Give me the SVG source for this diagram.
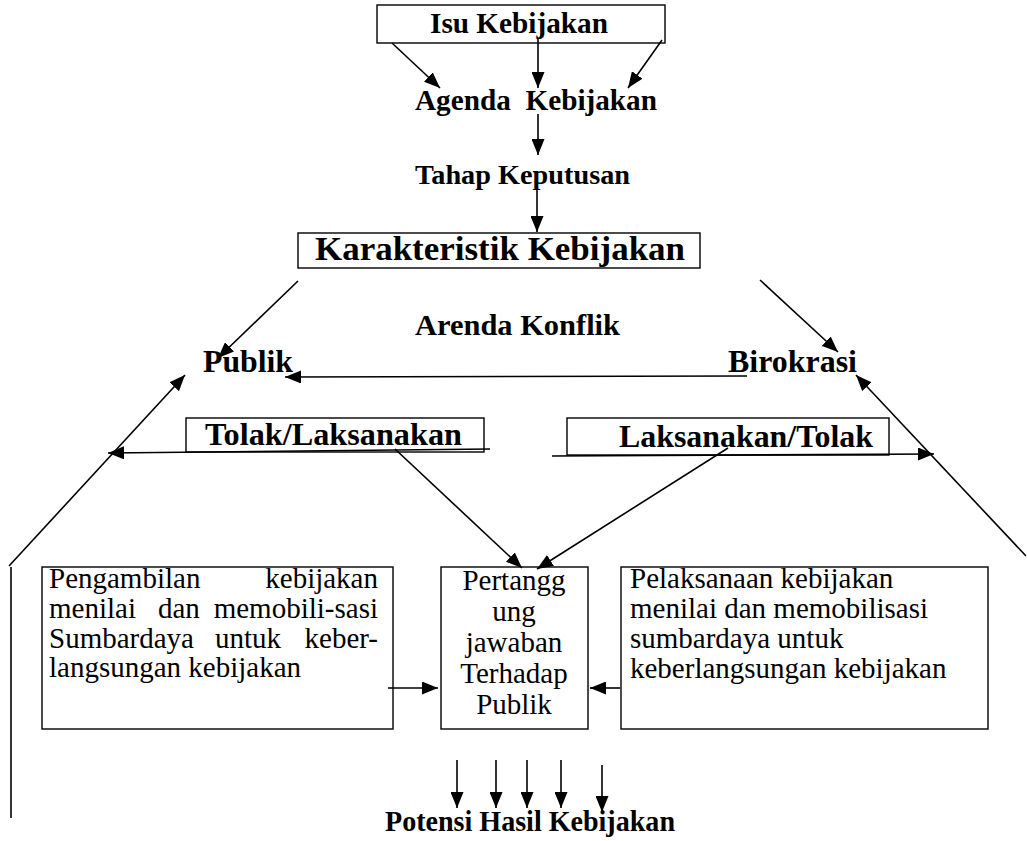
<svg xmlns="http://www.w3.org/2000/svg" width="1027" height="841" viewBox="0 0 1027 841">
  <style>
    .box { fill: none; stroke: #000; stroke-width: 1.4; }
    .b { font-family: "Liberation Serif", "Times New Roman", serif; font-weight: bold; fill: #000; }
    .r { font-family: "Liberation Serif", "Times New Roman", serif; font-size: 29px; fill: #000; }
    .c { text-anchor: middle; }
    .e { text-anchor: end; }
    .ln { stroke: #000; stroke-width: 1.6; fill: none; }
    .ar { stroke: #000; stroke-width: 1.6; fill: none; marker-end: url(#head); }
  </style>
  <defs>
    <marker id="head" markerUnits="userSpaceOnUse" markerWidth="17" markerHeight="13" refX="16" refY="6.5" orient="auto">
      <path d="M0,0 L16,6.5 L0,13 z" fill="#000"/>
    </marker>
  </defs>
  <rect width="1027" height="841" fill="#fff"/>

  <!-- flow connectors -->
  <g id="connectors">
    <line class="ar" x1="392" y1="43" x2="440" y2="88"/>
    <line class="ar" x1="538" y1="38" x2="538" y2="88"/>
    <line class="ar" x1="662" y1="40" x2="628" y2="88"/>
    <line class="ar" x1="538" y1="114" x2="538" y2="155"/>
    <line class="ar" x1="537" y1="187" x2="537" y2="232"/>
    <line class="ar" x1="298" y1="281" x2="218" y2="358"/>
    <line class="ar" x1="760" y1="280" x2="838" y2="352"/>
    <line class="ar" x1="747" y1="376" x2="285" y2="377"/>
    <line class="ar" x1="9" y1="566" x2="185" y2="375"/>
    <line class="ar" x1="490" y1="449" x2="108" y2="453"/>
    <line class="ar" x1="552" y1="456" x2="934" y2="454"/>
    <line class="ar" x1="1026" y1="556" x2="856" y2="375"/>
    <line class="ar" x1="395" y1="449" x2="522" y2="568"/>
    <line class="ar" x1="728" y1="448" x2="537" y2="569"/>
    <line class="ar" x1="388" y1="688" x2="438" y2="688"/>
    <line class="ar" x1="620" y1="688" x2="590" y2="688"/>
    <line class="ar" x1="457" y1="760" x2="457" y2="808"/>
    <line class="ar" x1="496" y1="760" x2="496" y2="808"/>
    <line class="ar" x1="527" y1="760" x2="527" y2="808"/>
    <line class="ar" x1="561" y1="760" x2="561" y2="808"/>
    <line class="ar" x1="602" y1="765" x2="602" y2="812"/>
    <line class="ln" x1="11" y1="567" x2="11" y2="818"/>
  </g>

  <g id="isu-kebijakan">
    <rect class="box" x="377" y="5" width="288" height="38"/>
    <text class="b" x="430" y="33" font-size="29" textLength="178" lengthAdjust="spacingAndGlyphs">Isu Kebijakan</text>
  </g>

  <g id="agenda-kebijakan">
    <text class="b" x="415" y="110" font-size="29" textLength="242" lengthAdjust="spacingAndGlyphs" xml:space="preserve">Agenda  Kebijakan</text>
  </g>

  <g id="tahap-keputusan">
    <text class="b" x="415" y="184" font-size="28" textLength="215" lengthAdjust="spacingAndGlyphs">Tahap Keputusan</text>
  </g>

  <g id="karakteristik-kebijakan">
    <rect class="box" x="298" y="233" width="402" height="35"/>
    <text class="b" x="315" y="260" font-size="34" textLength="370" lengthAdjust="spacingAndGlyphs">Karakteristik Kebijakan</text>
  </g>

  <g id="arenda-konflik">
    <text class="b" x="415" y="335" font-size="30" textLength="205" lengthAdjust="spacingAndGlyphs">Arenda Konflik</text>
  </g>

  <g id="publik">
    <text class="b" x="203" y="372" font-size="31" textLength="90" lengthAdjust="spacingAndGlyphs">Publik</text>
  </g>

  <g id="birokrasi">
    <text class="b" x="728" y="372" font-size="31" textLength="129" lengthAdjust="spacingAndGlyphs">Birokrasi</text>
  </g>

  <g id="tolak-laksanakan">
    <rect class="box" x="186" y="418" width="298" height="34"/>
    <text class="b" x="205" y="445" font-size="31" textLength="257" lengthAdjust="spacingAndGlyphs">Tolak/Laksanakan</text>
  </g>

  <g id="laksanakan-tolak">
    <rect class="box" x="567" y="418" width="322" height="37"/>
    <text class="b" x="619" y="447" font-size="31" textLength="254" lengthAdjust="spacingAndGlyphs">Laksanakan/Tolak</text>
  </g>

  <g id="pengambilan-kebijakan">
    <rect class="box" x="42" y="567" width="351" height="162"/>
    <text class="r" x="49" y="588">Pengambilan</text>
    <text class="r e" x="378" y="588">kebijakan</text>
    <text class="r" x="49" y="618">menilai</text>
    <text class="r" x="158" y="618">dan</text>
    <text class="r e" x="378" y="618">memobili-sasi</text>
    <text class="r" x="49" y="648">Sumbardaya</text>
    <text class="r" x="215" y="648">untuk</text>
    <text class="r e" x="378" y="648">keber-</text>
    <text class="r" x="49" y="677">langsungan kebijakan</text>
  </g>

  <g id="pertanggungjawaban">
    <rect class="box" x="441" y="567" width="147" height="162"/>
    <text class="r c" x="514" y="590">Pertangg</text>
    <text class="r c" x="514" y="621">ung</text>
    <text class="r c" x="514" y="652">jawaban</text>
    <text class="r c" x="514" y="683">Terhadap</text>
    <text class="r c" x="514" y="714">Publik</text>
  </g>

  <g id="pelaksanaan-kebijakan">
    <rect class="box" x="621" y="567" width="367" height="162"/>
    <text class="r" x="630" y="588">Pelaksanaan kebijakan</text>
    <text class="r" x="630" y="618">menilai dan memobilisasi</text>
    <text class="r" x="630" y="648">sumbardaya untuk</text>
    <text class="r" x="630" y="678">keberlangsungan kebijakan</text>
  </g>

  <g id="potensi-hasil">
    <text class="b" x="385" y="831" font-size="30" textLength="290" lengthAdjust="spacingAndGlyphs">Potensi Hasil Kebijakan</text>
  </g>
</svg>
